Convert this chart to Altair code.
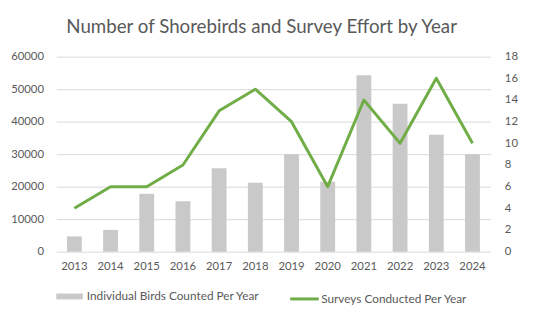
import altair as alt
import pandas as pd

years = ["2013", "2014", "2015", "2016", "2017", "2018",
         "2019", "2020", "2021", "2022", "2023", "2024"]
birds = [4700, 6700, 17800, 15500, 25700, 21200,
         30000, 21500, 54300, 45500, 36000, 30000]
surveys = [4, 6, 6, 8, 13, 15, 12, 6, 14, 10, 16, 10]
bar_label = "Individual Birds Counted Per Year"
line_label = "Surveys Conducted Per Year"
left_ticks = [0, 10000, 20000, 30000, 40000, 50000, 60000]
right_ticks = [0, 2, 4, 6, 8, 10, 12, 14, 16, 18]
title_text = "Number of Shorebirds and Survey Effort by Year"

df = pd.DataFrame({
    "Year": years,
    "Birds": birds,
    "Surveys": surveys,
    "BarSeries": [bar_label] * len(years),
    "LineSeries": [line_label] * len(years),
})

FONT = "Lato"
TXT = "#595959"
GRAY = "#c9c9c9"
GREEN = "#70ad47"

x = alt.X(
    "Year:N", sort=years,
    scale=alt.Scale(paddingInner=0.59, paddingOuter=0.295),
    axis=alt.Axis(title=None, labelAngle=0, domain=False, ticks=False,
                  labelPadding=9, grid=False),
)

bars = alt.Chart(df).mark_bar(color=GRAY).encode(
    x=x,
    y=alt.Y("Birds:Q", scale=alt.Scale(domain=[0, 60000]),
            axis=alt.Axis(title=None, values=left_ticks, format="d",
                          grid=True, gridColor="#d9d9d9", domain=False,
                          ticks=False, labelPadding=13)),
    fill=alt.Fill("BarSeries:N", scale=alt.Scale(range=[GRAY]),
                  legend=alt.Legend(title=None, orient="none", legendX=0,
                                    legendY=230, symbolType="M-1,-0.22H1V0.22H-1Z",
                                    symbolSize=729, symbolStrokeWidth=0,
                                    symbolOpacity=1, labelOffset=4,
                                    labelLimit=400, padding=0)),
)

line = alt.Chart(df).mark_line(strokeWidth=3, strokeJoin="round").encode(
    x=x,
    y=alt.Y("Surveys:Q", scale=alt.Scale(domain=[0, 18]),
            axis=alt.Axis(title=None, orient="right", values=right_ticks,
                          grid=False, domain=False, ticks=False,
                          labelPadding=14)),
    stroke=alt.Stroke("LineSeries:N", scale=alt.Scale(range=[GREEN]),
                      legend=alt.Legend(title=None, orient="none", legendX=236,
                                        legendY=230, symbolType="stroke",
                                        symbolSize=841, symbolStrokeWidth=3,
                                        labelOffset=1, labelLimit=400,
                                        padding=0)),
)

chart = alt.layer(bars, line).resolve_scale(
    y="independent"
).properties(
    width=441, height=198,
    autosize=alt.AutoSizeParams(type="none"),
    padding={"left": 49, "top": 47, "right": 38, "bottom": 69},
    title=alt.Title(title_text, fontSize=19, font=FONT, color=TXT,
                    fontWeight="normal", anchor="middle", dx=-12, offset=14),
).configure_view(stroke=None).configure_axis(
    labelFont=FONT, labelColor=TXT, labelFontSize=11.5
).configure_legend(
    labelFont=FONT, labelColor=TXT, labelFontSize=12
)

chart.save("out.html", embed_options={"renderer": "svg", "actions": False})
